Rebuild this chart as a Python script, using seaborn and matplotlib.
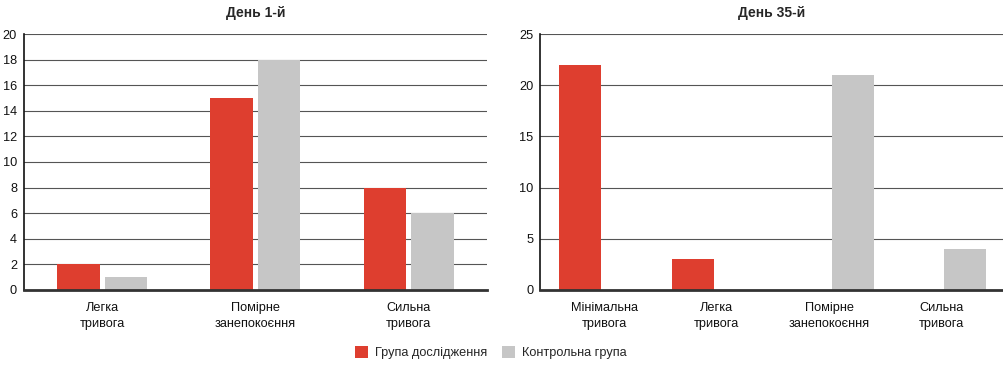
import matplotlib
matplotlib.use("Agg")
import matplotlib.pyplot as plt
import seaborn as sns
import pandas as pd
from matplotlib.patches import Patch

# Data
groups = ["Група дослідження", "Контрольна група"]
day1_categories = ["Легка\nтривога", "Помірне\nзанепокоєння", "Сильна\nтривога"]
day1_study = [2, 15, 8]
day1_control = [1, 18, 6]
day35_categories = ["Мінімальна\nтривога", "Легка\nтривога", "Помірне\nзанепокоєння", "Сильна\nтривога"]
day35_study = [22, 3, 0, 0]
day35_control = [0, 0, 21, 4]
titles = ["День 1-й", "День 35-й"]
colors = ["#DE3E2F", "#C6C6C6"]

sns.set_theme(style="white")
plt.rcParams["font.family"] = ["Liberation Sans", "DejaVu Sans"]

def make_df(cats, s, c):
    return pd.DataFrame({
        "cat": cats * 2,
        "val": s + c,
        "grp": [groups[0]] * len(cats) + [groups[1]] * len(cats),
    })

fig = plt.figure(figsize=(10.04, 3.78), dpi=100)
ax1 = fig.add_axes([0.0239, 0.233, 0.461, 0.677])
ax2 = fig.add_axes([0.538, 0.233, 0.461, 0.677])

specs = [
    (ax1, make_df(day1_categories, day1_study, day1_control), 0.622, 0.11, 20, 2, (-0.51, 2.51)),
    (ax2, make_df(day35_categories, day35_study, day35_control), 0.853, 0.125, 25, 5, (-0.569, 3.547)),
]
for (ax, df, w, g, ymax, step, xl), title in zip(specs, titles):
    sns.barplot(data=df, x="cat", y="val", hue="grp", palette=colors, saturation=1,
                width=w, gap=g, linewidth=0, ax=ax, legend=False, zorder=3)
    ax.set_xlim(*xl)
    ax.set_ylim(0, ymax)
    ax.set_yticks(range(0, ymax + 1, step))
    ax.yaxis.grid(True, color="#555555", linewidth=0.8, zorder=0)
    ax.set_axisbelow(True)
    for sp in ["top", "right"]:
        ax.spines[sp].set_visible(False)
    ax.spines["left"].set_color("#111111")
    ax.spines["left"].set_linewidth(1.2)
    ax.spines["bottom"].set_color("#333333")
    ax.spines["bottom"].set_linewidth(2)
    ax.spines["bottom"].set_zorder(4)
    ax.tick_params(axis="both", length=0, labelsize=9.2, colors="#111111")
    ax.tick_params(axis="y", pad=5)
    ax.tick_params(axis="x", pad=9)
    for lbl in ax.get_xticklabels():
        lbl.set_linespacing(1.35)
    ax.set_xlabel("")
    ax.set_ylabel("")
    ax.set_title(title, fontsize=10, fontweight="bold", pad=12)

handles = [Patch(facecolor=c, edgecolor="none") for c in colors]
fig.legend(handles, groups, loc="center", bbox_to_anchor=(0.489, 0.068), ncol=2,
           frameon=False, fontsize=9.2, handlelength=1.0, handleheight=1.1,
           columnspacing=1.1, handletextpad=0.6)

fig.savefig("out.png", dpi=100)
